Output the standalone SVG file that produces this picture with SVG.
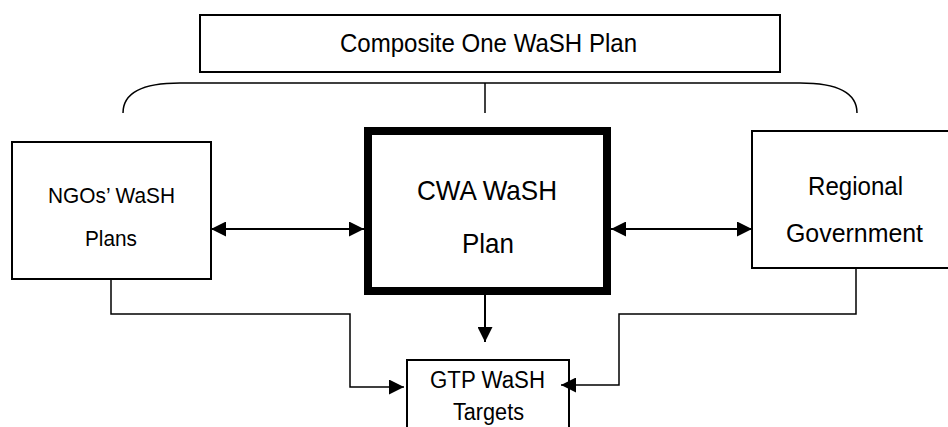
<svg xmlns="http://www.w3.org/2000/svg" width="948" height="427" viewBox="0 0 948 427">
  <style>
    .box { fill: #ffffff; stroke: #000000; stroke-width: 2; }
    .thick { fill: #ffffff; stroke: #000000; stroke-width: 8; }
    .lbl { font-family: "Liberation Sans", Arial, sans-serif; fill: #000000; text-anchor: middle; }
    .ln { fill: none; stroke: #000000; stroke-width: 2; }
    .thin { fill: none; stroke: #000000; stroke-width: 1.5; }
  </style>
  <defs>
    <marker id="ah" viewBox="0 0 10 10" refX="10" refY="5" markerWidth="15" markerHeight="15" markerUnits="userSpaceOnUse" orient="auto-start-reverse">
      <path d="M0,0 L10,5 L0,10 Z" fill="#000000"/>
    </marker>
  </defs>
  <rect x="0" y="0" width="948" height="427" fill="#ffffff"/>

  <g id="composite">
    <rect class="box" x="200" y="15" width="580" height="57"/>
    <text class="lbl" x="488.5" y="52" font-size="26" textLength="297" lengthAdjust="spacingAndGlyphs">Composite One WaSH Plan</text>
  </g>

  <g id="ngo">
    <rect class="box" x="12" y="142" width="199" height="137"/>
    <text class="lbl" x="111.5" y="203" font-size="22" textLength="127" lengthAdjust="spacingAndGlyphs">NGOs’ WaSH</text>
    <text class="lbl" x="111" y="246" font-size="22" textLength="52" lengthAdjust="spacingAndGlyphs">Plans</text>
  </g>

  <g id="cwa">
    <rect class="thick" x="368" y="131" width="239" height="160"/>
    <text class="lbl" x="487" y="200" font-size="28" textLength="140" lengthAdjust="spacingAndGlyphs">CWA WaSH</text>
    <text class="lbl" x="488" y="253" font-size="28" textLength="52" lengthAdjust="spacingAndGlyphs">Plan</text>
  </g>

  <g id="regional">
    <rect class="box" x="752" y="131" width="220" height="137"/>
    <text class="lbl" x="855.5" y="195" font-size="25.5" textLength="95" lengthAdjust="spacingAndGlyphs">Regional</text>
    <text class="lbl" x="854.5" y="242" font-size="25.5" textLength="137" lengthAdjust="spacingAndGlyphs">Government</text>
  </g>

  <g id="gtp">
    <rect class="box" x="407" y="360" width="162" height="80"/>
    <text class="lbl" x="487.5" y="388" font-size="23" textLength="115" lengthAdjust="spacingAndGlyphs">GTP WaSH</text>
    <text class="lbl" x="488.5" y="420" font-size="23" textLength="71" lengthAdjust="spacingAndGlyphs">Targets</text>
  </g>

  <g id="connectors">
    <path class="thin" d="M123,113 C123,92 145,83 180,83 L800,83 C835,83 857,92 857,113"/>
    <line class="thin" x1="485" y1="83" x2="485" y2="113"/>
    <line class="ln" x1="211" y1="229" x2="364" y2="229" marker-start="url(#ah)" marker-end="url(#ah)"/>
    <line class="ln" x1="611" y1="229" x2="752" y2="229" marker-start="url(#ah)" marker-end="url(#ah)"/>
    <line class="ln" x1="485" y1="295" x2="485" y2="342" marker-end="url(#ah)"/>
    <path class="thin" d="M111,279 L111,314 L350,314 L350,387 L404,387" marker-end="url(#ah)"/>
    <path class="thin" d="M856,268 L856,314 L619,314 L619,385 L561,385" marker-end="url(#ah)"/>
  </g>
</svg>
